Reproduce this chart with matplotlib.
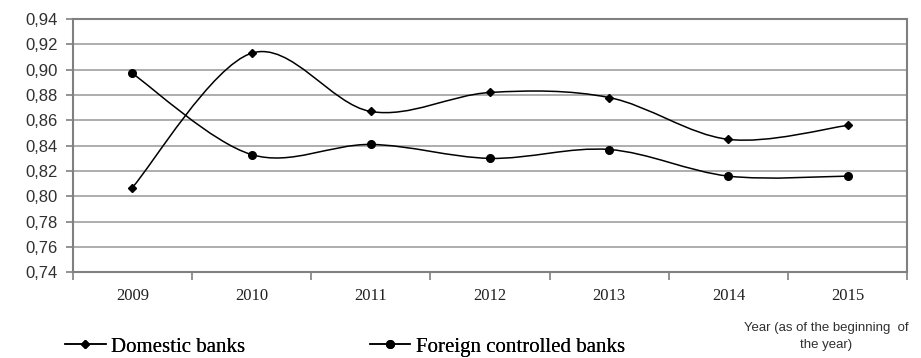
"""
Domestic vs foreign controlled banks, indicator by year (smoothed lines)
"""
import numpy as np
import matplotlib
matplotlib.use('Agg')
import matplotlib.pyplot as plt
from matplotlib.path import Path
from matplotlib.patches import PathPatch
from matplotlib.lines import Line2D
from matplotlib.ticker import FuncFormatter, FixedLocator

# Data
years = ['2009', '2010', '2011', '2012', '2013', '2014', '2015']
domestic = [0.807, 0.913, 0.867, 0.882, 0.878, 0.845, 0.856]
foreign = [0.897, 0.833, 0.841, 0.830, 0.837, 0.816, 0.816]

y_ticks = np.round(np.arange(0.74, 0.9401, 0.02), 2)


def smooth_path(x, y):
    """Catmull-Rom style bezier through the points (like spreadsheet smoothed lines)."""
    pts = np.column_stack([x, y]).astype(float)
    ext = np.vstack([pts[0], pts, pts[-1]])
    verts = [tuple(pts[0])]
    codes = [Path.MOVETO]
    for i in range(len(pts) - 1):
        p0, p1, p2, p3 = ext[i], ext[i + 1], ext[i + 2], ext[i + 3]
        c1 = p1 + (p2 - p0) / 6.0
        c2 = p2 - (p3 - p1) / 6.0
        verts += [tuple(c1), tuple(c2), tuple(p2)]
        codes += [Path.CURVE4] * 3
    return Path(verts, codes)


fig = plt.figure(figsize=(9.21, 3.58), dpi=100)
ax = fig.add_axes([0.079, 0.239, 0.906, 0.708])

x = np.arange(len(years))
grid_color = '#a0a0a0'
for yv in y_ticks[1:-1]:
    ax.axhline(yv, color=grid_color, lw=1.2, zorder=1)

for series, marker, ms in [(domestic, 'D', 4), (foreign, 'o', 5.5)]:
    ax.add_patch(PathPatch(smooth_path(x, series), facecolor='none',
                           edgecolor='black', lw=1.1, zorder=3))
    ax.plot(x, series, linestyle='none', marker=marker, markersize=ms,
            color='black', zorder=4)

ax.set_xlim(-0.5, len(years) - 0.5)
ax.set_ylim(0.74, 0.94)

# y axis: comma decimal labels
ax.set_yticks(y_ticks)
ax.yaxis.set_major_formatter(FuncFormatter(lambda v, p: f'{v:.2f}'.replace('.', ',')))
ax.tick_params(axis='y', length=5, width=1.2, color='#808080', labelsize=12, pad=6)
for lbl in ax.get_yticklabels():
    lbl.set_fontfamily('Liberation Sans')
    lbl.set_color('#303030')

# x axis: ticks between categories, labels centred
ax.xaxis.set_major_locator(FixedLocator(np.arange(-0.5, len(years), 1.0)))
ax.xaxis.set_major_formatter(FuncFormatter(lambda v, p: ''))
ax.xaxis.set_minor_locator(FixedLocator(x))
ax.set_xticklabels(years, minor=True)
ax.tick_params(axis='x', which='major', length=6, width=1.2, color='#808080')
ax.tick_params(axis='x', which='minor', length=0, labelsize=12, pad=11)
for lbl in ax.get_xticklabels(minor=True):
    lbl.set_fontfamily('Liberation Serif')
    lbl.set_color('#202020')

for s in ax.spines.values():
    s.set_color('#808080')
    s.set_linewidth(1.5)

# legend entries, placed one by one
legend_kw = dict(loc='center left', frameon=False, handlelength=1.95,
                 handletextpad=0.25, borderpad=0, borderaxespad=0,
                 prop={'family': 'Liberation Serif', 'size': 15})
entries = [
    (Line2D([], [], color='black', lw=1.1, marker='D', markersize=4),
     'Domestic banks', 0.0705),
    (Line2D([], [], color='black', lw=1.1, marker='o', markersize=5.5),
     'Foreign controlled banks', 0.4015),
]
for handle, label, xpos in entries:
    leg = fig.legend([handle], [label], bbox_to_anchor=(xpos, 0.031), **legend_kw)
    fig.add_artist(leg)

fig.text(0.897, 0.06, 'Year (as of the beginning  of\nthe year)', ha='center',
         va='center', fontsize=9.5, family='Liberation Sans',
         color='#303030', linespacing=1.55)

fig.savefig('out.png', dpi=100)
